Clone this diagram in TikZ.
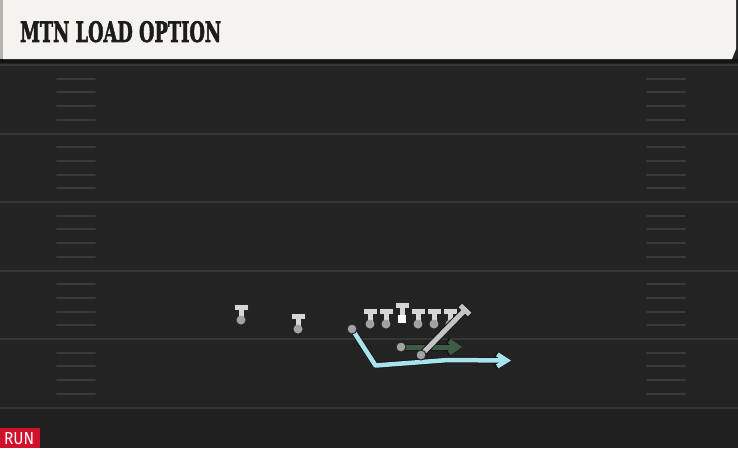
\documentclass[tikz,border=0pt]{standalone}
\usepackage{fontspec}
\setmainfont{DejaVu Serif}
\newfontfamily\titlefont[BoldFeatures={FakeBold=2.5}]{DejaVu Serif}
\newfontfamily\runfont{Fira Sans}
\usetikzlibrary{arrows.meta,calc}
\definecolor{fieldbg}{HTML}{232323}
\definecolor{fieldline}{HTML}{363636}
\definecolor{hashc}{HTML}{3A3A3A}
\definecolor{cream}{HTML}{F5F3EE}
\definecolor{titleink}{HTML}{1C1C1C}
\definecolor{runred}{HTML}{D0112B}
\definecolor{teec}{HTML}{D6D6D6}
\definecolor{dotc}{HTML}{A2A2A2}
\definecolor{bluer}{HTML}{A8E2EC}
\definecolor{greenr}{HTML}{3D5C45}
\definecolor{greyr}{HTML}{C4C4C4}
\tikzset{
  fieldln/.style={draw=fieldline,line width=2pt},
  hashmark/.style={draw=hashc,line width=2pt,line cap=round},
  outl/.style={fill=black!85},
  player/.pic={
    \fill[outl] (-7.5,-1) rectangle (7.5,6);
    \fill[outl] (-3.5,5) rectangle (3.5,15);
    \fill[outl] (0,15) circle (5.5);
    \fill[teec] (-6.5,0) rectangle (6.5,5);
    \fill[teec] (-2.5,5) rectangle (2.5,15);
    \fill[dotc] (0,15) circle (4.5);
  },
  centerp/.pic={
    \fill[outl] (-7.5,-1) rectangle (7.5,6);
    \fill[outl] (-3.5,5) rectangle (3.5,12);
    \fill[outl] (-5,11) rectangle (5,21);
    \fill[teec] (-6.5,0) rectangle (6.5,5);
    \fill[teec] (-2.5,5) rectangle (2.5,12);
    \fill[white] (-4,12) rectangle (4,20);
  },
  startdot/.style={circle,fill=dotc,draw=black!85,line width=1pt,minimum size=10pt,inner sep=0pt},
  routeout/.style={draw=black!90,line width=6.5pt,line join=round},
  bluein/.style={draw=bluer,line width=4.5pt,line join=round},
}
\begin{document}
\begin{tikzpicture}[x=1pt,y=-1pt]
\useasboundingbox (0,0) rectangle (738,448);
% field
\fill[fieldbg] (0,0) rectangle (738,448);
\fill[black!92] (0,59) rectangle (738,63);
\fill[fieldbg!92!black] (0,409) rectangle (738,448);
\foreach \yy in {65,133.5,202,270.5,339,407.5}
  \draw[fieldln] (0,\yy) -- (738,\yy);
\foreach \yy in {65,133.5,202,270.5,339}
  \foreach \i in {1,2,3,4} {
    \draw[hashmark] (57,\yy+13.7*\i) -- (95,\yy+13.7*\i);
    \draw[hashmark] (647,\yy+13.7*\i) -- (685,\yy+13.7*\i);
  }
% title bar
\fill[gray!60] (0,0) rectangle (3,59);
\fill[cream] (3,0) -- (736,0) -- (736,49) -- (732,59) -- (3,59) -- cycle;
\node[anchor=south west,inner sep=0pt,text=titleink] (title) at (20,42.5)
  {\resizebox{201pt}{20.8pt}{\titlefont\bfseries MTN LOAD OPTION}};
% RUN label
\fill[runred] (0,428) rectangle (40,448);
\node[anchor=south west,inner sep=0pt,text=white] (run) at (4,445)
  {\resizebox{30pt}{12pt}{\runfont RUN}};
% players
\pic at (241,305) {player};
\pic at (298,314) {player};
\pic at (370,309) {player};
\pic at (386,309) {player};
\pic at (402,303) {centerp};
\pic at (418,309) {player};
\pic at (434,309) {player};
\pic at (450,309) {player};
% route points
\coordinate (b0) at (352,329);
\coordinate (b1) at (375.5,365.5);
\coordinate (b2) at (448,360);
\coordinate (b3) at (511,360.5);
\coordinate (g0) at (401,347);
\coordinate (g1) at (462,347);
\coordinate (h0) at (421,355);
\coordinate (h1) at (465,310);
% blue route
\draw[routeout,-{Straight Barb[length=10pt,width=13pt,line width=6.5pt]}] (b0) -- (b1) -- (b2) -- (b3);
\draw[bluein,-{Straight Barb[length=9.5pt,width=12pt,line width=4.5pt]}] (b0) -- (b1) -- (b2) -- (b3);
% green route
\draw[draw=black!90,line width=7pt,-{Straight Barb[length=9pt,width=13pt,line width=7pt]}] (g0) -- (g1);
\draw[draw=greenr,line width=5pt,-{Straight Barb[length=8.5pt,width=12pt,line width=5pt]}] (g0) -- (g1);
% grey block
\coordinate (e1) at ($(h1)!7.5pt!90:(h0)$);
\coordinate (e2) at ($(h1)!7.5pt!-90:(h0)$);
\draw[draw=black!90,line width=7pt] (h0) -- (h1);
\draw[draw=black!90,line width=7pt] (e1) -- (e2);
\draw[draw=greyr,line width=5pt] (h0) -- (h1);
\draw[draw=greyr,line width=5pt,shorten <=1pt,shorten >=1pt] (e1) -- (e2);
% start dots
\node[startdot] (p1) at (b0) {};
\node[startdot] (p2) at (g0) {};
\node[startdot] (p3) at (h0) {};
\end{tikzpicture}
\end{document}
